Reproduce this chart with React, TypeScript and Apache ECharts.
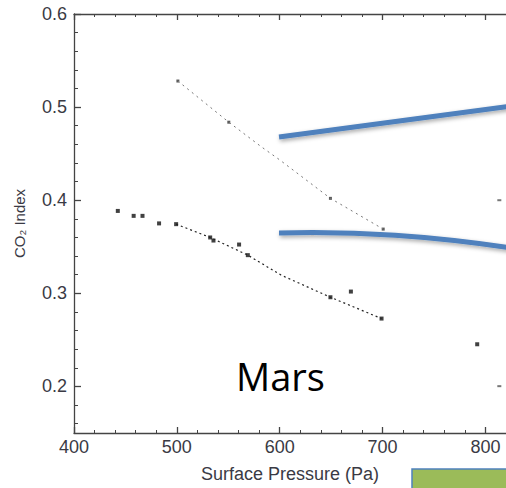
import React, { useEffect, useRef } from "react";
import * as echarts from "echarts";

// Axis ticks / labels
const xMajorTicks = [400, 500, 600, 700, 800];
const xMinorTicks = [420, 440, 460, 480, 520, 540, 560, 580, 620, 640, 660, 680, 720, 740, 760, 780];
const yMajorTicks = [0.2, 0.3, 0.4, 0.5, 0.6];
const yMinorTicks = [0.16, 0.18, 0.22, 0.24, 0.26, 0.28, 0.32, 0.34, 0.36, 0.38, 0.42, 0.44, 0.46, 0.48, 0.52, 0.54, 0.56, 0.58];

// Lower data set: measured points (squares)
const lowerPoints: [number, number][] = [
  [442.6, 0.3885], [458.0, 0.3832], [466.6, 0.3832], [482.7, 0.3751], [499.3, 0.3743],
  [532.4, 0.360], [535.6, 0.3567], [560.5, 0.3524], [569.0, 0.341], [649.3, 0.2958],
  [669.2, 0.3019], [699.0, 0.2729], [792.0, 0.2453],
];
// Lower fit line (dotted)
const lowerFit: [number, number][] = [
  [499.3, 0.3743], [532.4, 0.360], [569.0, 0.341], [601.3, 0.3196], [649.3, 0.2958], [699.0, 0.2729],
];
// Upper fit line (light dotted)
const upperFit: [number, number][] = [
  [501.0, 0.528], [550.5, 0.4838], [582.0, 0.4575], [600.0, 0.4433], [649.3, 0.402], [700.6, 0.369],
];
const upperMarkers: [number, number][] = [
  [501.0, 0.528], [550.5, 0.4838], [649.3, 0.402], [700.6, 0.369],
];
const edgePoints: [number, number][] = [[813.5, 0.40], [813.5, 0.2003]];

const FONT = "'Liberation Sans', Arial, Helvetica, sans-serif";
const AXIS_COLOR = "#444";
const LABEL_COLOR = "#3a3a44";

export default function App() {
  const ref = useRef<HTMLDivElement>(null);

  useEffect(() => {
    if (!ref.current) return;
    const chart = echarts.init(ref.current, null, { renderer: "svg" });
    const common = { type: "value" as const, min: 400, max: 820, splitLine: { show: false } };
    const commonY = { type: "value" as const, min: 0.15, max: 0.6, splitLine: { show: false } };
    chart.setOption({
      animation: false,
      backgroundColor: "#fff",
      grid: { left: 74, top: 14, right: -5, bottom: 51, containLabel: false },
      xAxis: [
        {
          ...common,
          position: "bottom",
          name: "Surface Pressure (Pa)",
          nameLocation: "middle",
          nameGap: 32,
          nameTextStyle: { fontFamily: FONT, fontSize: 18, color: LABEL_COLOR },
          axisLine: { show: true, onZero: false, lineStyle: { color: AXIS_COLOR, width: 1.3 } },
          axisTick: { show: true, inside: true, length: 6, customValues: xMajorTicks, lineStyle: { color: AXIS_COLOR, width: 1.3 } },
          axisLabel: { show: true, customValues: xMajorTicks, margin: 5, fontFamily: FONT, fontSize: 18, color: LABEL_COLOR },
        },
        {
          ...common,
          position: "bottom",
          axisLine: { show: false, onZero: false },
          axisTick: { show: true, inside: true, length: 3, customValues: xMinorTicks, lineStyle: { color: AXIS_COLOR, width: 1 } },
          axisLabel: { show: false },
        },
        {
          ...common,
          position: "top",
          axisLine: { show: true, onZero: false, lineStyle: { color: AXIS_COLOR, width: 1.3 } },
          axisTick: { show: true, inside: true, length: 6, customValues: xMajorTicks, lineStyle: { color: AXIS_COLOR, width: 1.3 } },
          axisLabel: { show: false },
        },
        {
          ...common,
          position: "top",
          axisLine: { show: false, onZero: false },
          axisTick: { show: true, inside: true, length: 3, customValues: xMinorTicks, lineStyle: { color: AXIS_COLOR, width: 1 } },
          axisLabel: { show: false },
        },
      ],
      yAxis: [
        {
          ...commonY,
          position: "left",
          name: "CO₂ Index",
          nameLocation: "middle",
          nameGap: 47,
          nameTextStyle: { fontFamily: FONT, fontSize: 15, color: LABEL_COLOR },
          axisLine: { show: true, onZero: false, lineStyle: { color: AXIS_COLOR, width: 1.3 } },
          axisTick: { show: true, inside: true, length: 7, customValues: yMajorTicks, lineStyle: { color: AXIS_COLOR, width: 1.3 } },
          axisLabel: {
            show: true, customValues: yMajorTicks, margin: 7, fontFamily: FONT, fontSize: 18, color: LABEL_COLOR,
            formatter: (v: number) => v.toFixed(1),
          },
        },
        {
          ...commonY,
          position: "left",
          axisLine: { show: false, onZero: false },
          axisTick: { show: true, inside: true, length: 4, customValues: yMinorTicks, lineStyle: { color: AXIS_COLOR, width: 1 } },
          axisLabel: { show: false },
        },
      ],
      series: [
        {
          type: "line",
          data: upperFit,
          xAxisIndex: 0,
          yAxisIndex: 0,
          showSymbol: false,
          symbol: "none",
          lineStyle: { color: "#777", width: 1, type: [2, 4] },
          silent: true,
        },
        {
          type: "scatter",
          data: upperMarkers,
          symbol: "rect",
          symbolSize: 3,
          itemStyle: { color: "#333" },
        },
        {
          type: "line",
          data: lowerFit,
          showSymbol: false,
          symbol: "none",
          lineStyle: { color: "#222", width: 1.2, type: [2, 3] },
          silent: true,
        },
        {
          type: "scatter",
          data: lowerPoints,
          symbol: "rect",
          symbolSize: 4,
          itemStyle: { color: "#111" },
        },
        {
          type: "scatter",
          data: edgePoints,
          symbol: "rect",
          symbolSize: [4, 2],
          itemStyle: { color: "#555" },
        },
      ],
      graphic: [
        {
          type: "line",
          shape: { x1: 279, y1: 137, x2: 512, y2: 106 },
          style: {
            stroke: "#4F81BD", lineWidth: 5,
            shadowColor: "rgba(0,0,0,0.35)", shadowBlur: 4, shadowOffsetX: 1, shadowOffsetY: 2,
          },
          z: 100,
        },
        {
          type: "bezierCurve",
          shape: { x1: 279, y1: 233, cpx1: 360, cpy1: 231, cpx2: 430, cpy2: 236, x2: 512, y2: 248 },
          style: {
            stroke: "#4F81BD", lineWidth: 5, fill: "none",
            shadowColor: "rgba(0,0,0,0.35)", shadowBlur: 4, shadowOffsetX: 1, shadowOffsetY: 2,
          },
          z: 100,
        },
        {
          type: "rect",
          shape: { x: 412, y: 469, width: 100, height: 26 },
          style: { fill: "#9BBB59", stroke: "#4F81BD", lineWidth: 1.5 },
          z: 100,
        },
        {
          type: "text",
          x: 236,
          y: 376,
          style: {
            text: "Mars",
            fontFamily: "'Open Sans', sans-serif",
            fontSize: 38,
            fill: "#000",
            align: "left",
            verticalAlign: "middle",
          },
          z: 100,
        },
      ],
    });
    return () => chart.dispose();
  }, []);

  return (
    <div style={{ position: "fixed", left: 0, top: 0, width: 506, height: 488, overflow: "hidden", background: "#fff" }}>
      <div ref={ref} style={{ width: 506, height: 488 }} />
    </div>
  );
}
